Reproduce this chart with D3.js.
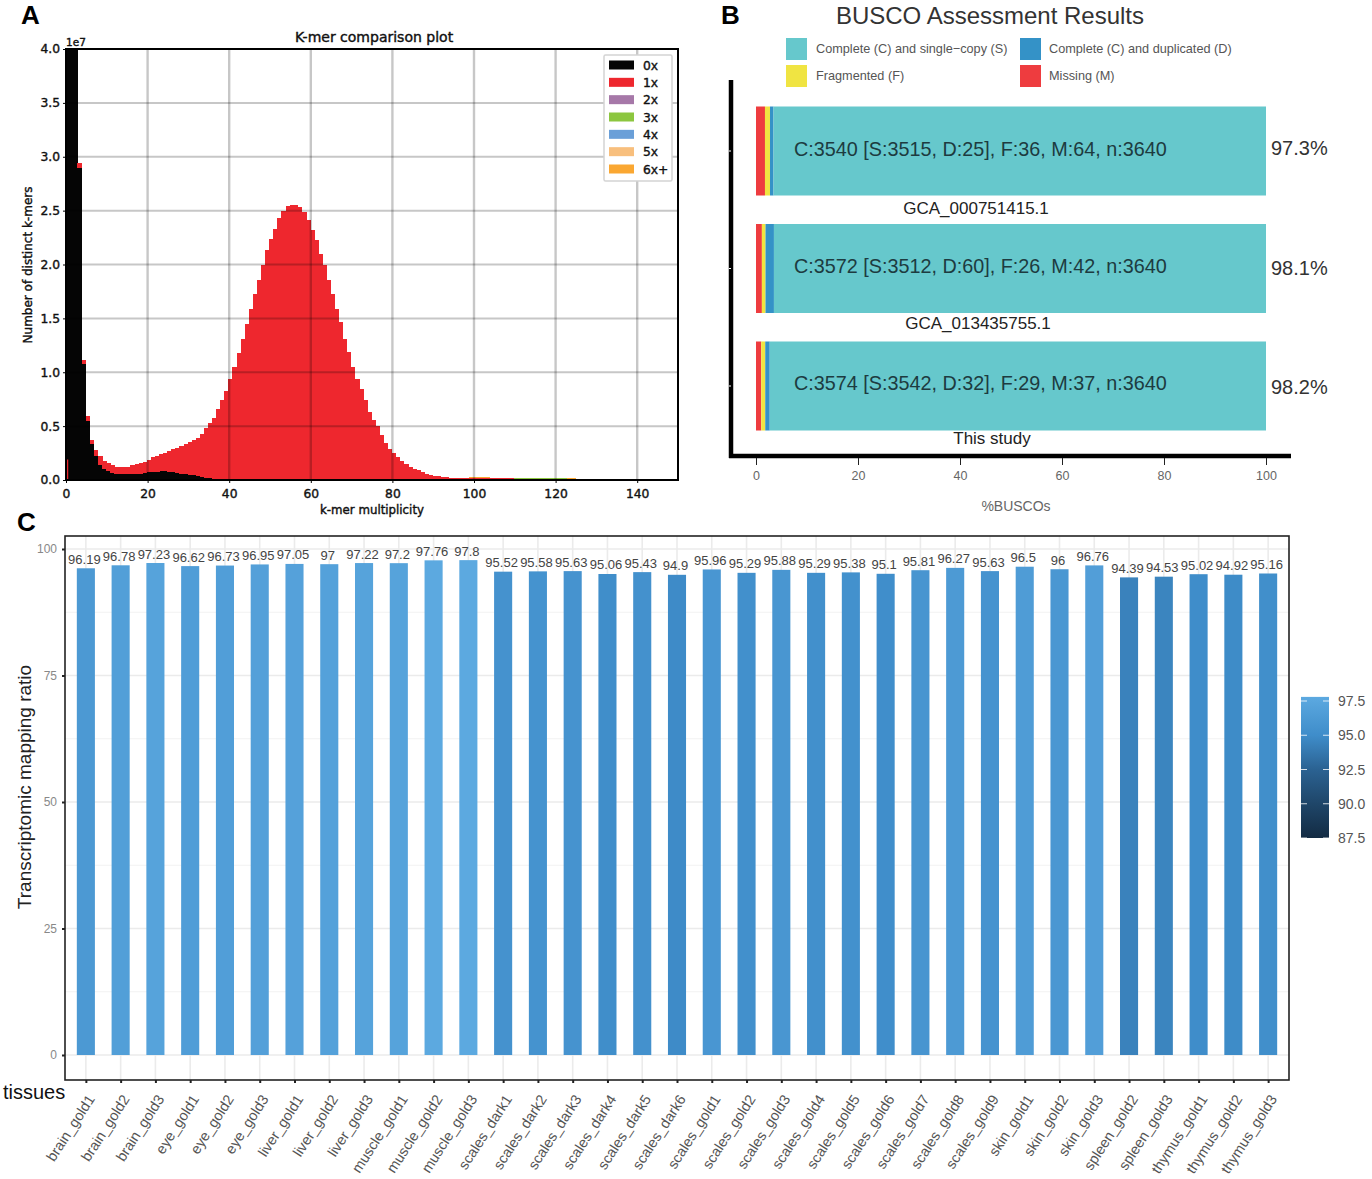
<!DOCTYPE html>
<html>
<head>
<meta charset="utf-8">
<script src="https://cdn.jsdelivr.net/npm/d3@7"></script>
<style>
  html, body { margin: 0; padding: 0; background: #fff; }
  svg { display: block; }
  text { font-family: "Liberation Sans", Arial, sans-serif; }
  .kmer text { font-family: "DejaVu Sans", sans-serif; font-size: 12.3px; fill: #111; stroke: #111; stroke-width: .4px; }
</style>
</head>
<body>
<div id="chart"></div>
<script>
// Panel A: k-mer histogram, counts in units of 1e7, one entry per multiplicity bin from 0
var kmerZero = [4.6,4.6,4.6,2.90,1.08,.55,.33,.22,.14,.10,.08,.065,.06,.055,.055,.055,.055,.06,.06,.065,
  .07,.07,.075,.08,.08,.075,.07,.065,.06,.055,.05,.045,.035,.03,.02,.015,.01,.005];
var kmerOne = [0,0,0,.04,.03,.04,.04,.06,.08,.08,.075,.07,.065,.065,.065,.07,.08,.085,.095,.105,
  .12,.14,.15,.16,.175,.195,.215,.235,.255,.275,.30,.325,.355,.40,.46,.515,.57,.655,.74,.83,
  .94,1.05,1.18,1.31,1.45,1.59,1.73,1.86,2.0,2.13,2.24,2.33,2.43,2.5,2.54,2.55,2.55,2.53,2.49,2.41,
  2.32,2.23,2.1,2.0,1.86,1.73,1.59,1.47,1.31,1.19,1.05,.94,.84,.74,.63,.56,.5,.42,.34,.29,
  .25,.21,.18,.15,.125,.105,.09,.075,.06,.05,.04,.035,.03,.025,.02,.015,.015,.015,.015,.015,
  .015,.015,.015,.015,.015,.015,.015,.015,.015,.015,.012,.012,.012,.012,.012,.012,.012,.012,.012,.012,
  .01,.01,.01,.01,.01,.008,.008,.008,.008,.006,.006,.006,.005,.005,.005,.004,.004,.003,.003,.002];
var kmerSpike = 0.19;  // thin red line at the very start of the axis
// 3x and 6x+ only show as a faint rim on the tail, starting at bin 95
var tailStart = 95;
var kmerThreeTail = [.002,.003,.004,.005,.006,.006,.007,.007,.007,.006,.006,.006,.005,.005,.005,.005,.005,.006,.006,.006,
  .006,.006,.006,.005,.005,.005,.004,.004,.003,.003];
var kmerSixTail = [.001,.001,.002,.002,.003,.003,.003,.003,.002,.002,.002,.002,.002,.002,.002,.002,.002,.002,.002,.002,
  .002,.002,.002,.002,.002,.002,.002,.003,.003,.003,.003,.003,.003,.003,.002,.002,.002,.002,.002,.001];
var kmerKeys = ["0x","1x","2x","3x","4x","5x","6x+"];
var kmerColors = ["#050505","#ee272e","#a678a8","#8cc63f","#6a9fd8","#f8bf7d","#faa732"];
var kmerXTicks = [0,20,40,60,80,100,120,140];
var kmerYTicks = [0,.5,1,1.5,2,2.5,3,3.5,4];

// Panel B: BUSCO gene counts
var buscoNames = ["GCA_000751415.1","GCA_013435755.1","This study"];
var buscoMissing = [64,42,37];
var buscoFragmented = [36,26,29];
var buscoDuplicated = [25,60,32];
var buscoSingle = [3515,3512,3542];
var buscoTotal = 3640;
var buscoSummary = ["C:3540 [S:3515, D:25], F:36, M:64, n:3640","C:3572 [S:3512, D:60], F:26, M:42, n:3640","C:3574 [S:3542, D:32], F:29, M:37, n:3640"];
var buscoPercent = ["97.3%","98.1%","98.2%"];
var buscoKeys = ["M","F","D","S"];
var buscoColors = {S:"#66c8cc", D:"#3492c7", F:"#f0e442", M:"#ee3c3f"};
var buscoXTicks = [0,20,40,60,80,100];

// Panel C: mapping ratio per tissue
var tissues = ["brain_gold1","brain_gold2","brain_gold3","eye_gold1","eye_gold2","eye_gold3","liver_gold1","liver_gold2","liver_gold3",
  "muscle_gold1","muscle_gold2","muscle_gold3","scales_dark1","scales_dark2","scales_dark3","scales_dark4","scales_dark5","scales_dark6",
  "scales_gold1","scales_gold2","scales_gold3","scales_gold4","scales_gold5","scales_gold6","scales_gold7","scales_gold8","scales_gold9",
  "skin_gold1","skin_gold2","skin_gold3","spleen_gold2","spleen_gold3","thymus_gold1","thymus_gold2","thymus_gold3"];
var mappingRatio = [96.19,96.78,97.23,96.62,96.73,96.95,97.05,97,97.22,97.2,97.76,97.8,95.52,95.58,95.63,95.06,95.43,94.9,
  95.96,95.29,95.88,95.29,95.38,95.1,95.81,96.27,95.63,96.5,96,96.76,94.39,94.53,95.02,94.92,95.16];
var ratioTicks = [0,25,50,75,100];
var ratioMinorTicks = [12.5,37.5,62.5,87.5];
var colorbarTicks = [87.5,90,92.5,95,97.5];

var svg = d3.select("#chart").append("svg").attr("width", 1372).attr("height", 1179);

function panelLetter(label, x, y) {
  svg.append("text").attr("x", x).attr("y", y).text(label)
    .style("font-size", "26px").style("font-weight", "bold").style("fill", "#000");
}
panelLetter("A", 21, 24);
panelLetter("B", 721, 24);
panelLetter("C", 17, 531);

/* ---------- A ---------- */
var a = svg.append("g").attr("class", "kmer");
var ax = d3.scaleLinear().domain([0, 150]).range([66, 678]);
var ay = d3.scaleLinear().domain([0, 4]).range([480, 49]);

var kmerTable = kmerOne.map(function(v, k) {
  return {
    "0x": kmerZero[k] || 0,
    "1x": v,
    "2x": 0,
    "3x": kmerThreeTail[k - tailStart] || 0,
    "4x": 0,
    "5x": 0,
    "6x+": kmerSixTail[k - tailStart] || 0,
    k: k
  };
});
var kmerStack = d3.stack().keys(kmerKeys)(kmerTable);

svg.append("clipPath").attr("id", "kmerClip").append("rect")
  .attr("x", 64).attr("y", 49).attr("width", 614).attr("height", 431);

a.append("g").attr("clip-path", "url(#kmerClip)").attr("shape-rendering", "crispEdges").selectAll("g")
  .data(kmerStack).enter().append("g")
  .attr("fill", function(d, i) { return kmerColors[i]; })
  .selectAll("rect")
  .data(function(d) { return d; }).enter().append("rect")
  .attr("x", function(d) { return ax(d.data.k - 0.2); })
  .attr("width", ax(1) - ax(0) + 0.6)
  .attr("y", function(d) { return ay(d[1]); })
  .attr("height", function(d) { return Math.max(0, ay(d[0]) - ay(d[1])); });

a.append("line").attr("x1", ax(0.4)).attr("x2", ax(0.4)).attr("y1", ay(0)).attr("y2", ay(kmerSpike))
  .attr("stroke", "#ee272e").attr("stroke-width", 1.2);

// grid sits on top of the bars
a.append("g").selectAll("line").data(kmerXTicks.slice(1)).enter().append("line")
  .attr("x1", ax).attr("x2", ax).attr("y1", 49).attr("y2", 480)
  .attr("stroke", "#000").attr("stroke-opacity", .22).attr("stroke-width", 2.4);
a.append("g").selectAll("line").data(kmerYTicks.slice(1, -1)).enter().append("line")
  .attr("y1", ay).attr("y2", ay).attr("x1", 66).attr("x2", 678)
  .attr("stroke", "#000").attr("stroke-opacity", .22).attr("stroke-width", 2);

a.append("rect").attr("x", 66).attr("y", 49).attr("width", 612).attr("height", 431)
  .attr("fill", "none").attr("stroke", "#000").attr("stroke-width", 2);

var axA = a.append("g").attr("transform", "translate(0,480)")
  .call(d3.axisBottom(ax).tickValues(kmerXTicks).tickSize(3).tickPadding(6).tickFormat(d3.format("d")));
var ayA = a.append("g").attr("transform", "translate(66,0)")
  .call(d3.axisLeft(ay).tickValues(kmerYTicks).tickSize(3).tickPadding(3).tickFormat(d3.format(".1f")));
axA.select(".domain").remove();
ayA.select(".domain").remove();

a.append("text").attr("x", 66).attr("y", 46).text("1e7").style("font-size", "10.5px");
a.append("text").attr("x", 374).attr("y", 42).attr("text-anchor", "middle").text("K-mer comparison plot").style("font-size", "14px");
a.append("text").attr("x", 372).attr("y", 514).attr("text-anchor", "middle").text("k-mer multiplicity").style("font-size", "11.8px");
a.append("text").attr("transform", "translate(32,265) rotate(-90)").attr("text-anchor", "middle").text("Number of distinct k-mers").style("font-size", "12px");

var lg = a.append("g");
lg.append("rect").attr("x", 604).attr("y", 55).attr("width", 68).attr("height", 126)
  .attr("fill", "#fff").attr("stroke", "#d4d4d4").attr("stroke-width", 1.5).attr("rx", 1.5);
var legendRow = d3.scalePoint().domain(kmerKeys).range([65, 169]);
lg.selectAll("rect.sw").data(kmerKeys).enter().append("rect").attr("class", "sw")
  .attr("x", 609).attr("width", 25).attr("height", 9)
  .attr("y", function(d) { return legendRow(d) - 4.5; })
  .attr("fill", function(d, i) { return kmerColors[i]; });
lg.selectAll("text").data(kmerKeys).enter().append("text")
  .attr("x", 643).attr("y", function(d) { return legendRow(d) + 4.5; })
  .text(function(d) { return d; });

/* ---------- B ---------- */
var b = svg.append("g");
var bx = d3.scaleLinear().domain([0, 100]).range([756, 1266]);
var barTops = d3.scalePoint().domain(buscoNames).range([151, 386]);
var barHeight = 89;
var buscoTable = buscoNames.map(function(n, i) {
  return {name: n, M: buscoMissing[i] / buscoTotal * 100, F: buscoFragmented[i] / buscoTotal * 100,
    D: buscoDuplicated[i] / buscoTotal * 100, S: buscoSingle[i] / buscoTotal * 100};
});

b.append("text").attr("x", 990).attr("y", 24).attr("text-anchor", "middle")
  .text("BUSCO Assessment Results").style("font-size", "24px").style("fill", "#333");

var buscoLegend = [
  {key: "S", label: "Complete (C) and single\u2212copy (S)", x: 786, y: 38},
  {key: "D", label: "Complete (C) and duplicated (D)", x: 1020, y: 38},
  {key: "F", label: "Fragmented (F)", x: 786, y: 65},
  {key: "M", label: "Missing (M)", x: 1020, y: 65}
];
b.selectAll("rect.key").data(buscoLegend).enter().append("rect").attr("class", "key")
  .attr("x", function(d) { return d.x; }).attr("y", function(d) { return d.y; })
  .attr("width", 21).attr("height", 22)
  .attr("fill", function(d) { return buscoColors[d.key]; });
b.selectAll("text.key").data(buscoLegend).enter().append("text").attr("class", "key")
  .attr("x", function(d) { return d.x + (d.x == 786 ? 30 : 29); }).attr("y", function(d) { return d.y + 15; })
  .text(function(d) { return d.label; })
  .style("font-size", "12.7px").style("fill", "#555");

b.selectAll("g.stack").data(d3.stack().keys(buscoKeys)(buscoTable)).enter().append("g").attr("class", "stack")
  .attr("fill", function(d) { return buscoColors[d.key]; })
  .selectAll("rect").data(function(d) { return d; }).enter().append("rect")
  .attr("x", function(d) { return bx(d[0]); })
  .attr("width", function(d) { return bx(d[1]) - bx(d[0]); })
  .attr("y", function(d) { return barTops(d.data.name) - barHeight / 2; })
  .attr("height", barHeight);

var summaryY = [156, 273, 390], percentY = [155, 275, 394];
b.selectAll("text.sum").data(buscoSummary).enter().append("text").attr("class", "sum")
  .attr("x", 794).attr("y", function(d, i) { return summaryY[i]; })
  .text(function(d) { return d; })
  .style("font-size", "19.8px").style("fill", "#1d3b40");
b.selectAll("text.pct").data(buscoPercent).enter().append("text").attr("class", "pct")
  .attr("x", 1271).attr("y", function(d, i) { return percentY[i]; })
  .text(function(d) { return d; })
  .style("font-size", "20px").style("fill", "#333");
var nameX = [976, 978, 992], nameY = [214, 329, 444];
b.selectAll("text.name").data(buscoNames).enter().append("text").attr("class", "name")
  .attr("x", function(d, i) { return nameX[i]; }).attr("y", function(d, i) { return nameY[i]; })
  .attr("text-anchor", "middle").text(function(d) { return d; })
  .style("font-size", "17px").style("fill", "#222");

b.append("line").attr("x1", 731).attr("x2", 731).attr("y1", 80).attr("y2", 458).attr("stroke", "#000").attr("stroke-width", 4.5);
b.append("line").attr("x1", 729).attr("x2", 1291).attr("y1", 456).attr("y2", 456).attr("stroke", "#000").attr("stroke-width", 4.5);
b.selectAll("line.nick").data(buscoNames).enter().append("line").attr("class", "nick")
  .attr("x1", 729).attr("x2", 731).attr("y1", barTops).attr("y2", barTops)
  .attr("stroke", "#fff").attr("stroke-width", 1);

var bAxis = b.append("g").attr("transform", "translate(0,458)")
  .call(d3.axisBottom(bx).tickValues(buscoXTicks).tickSize(7).tickPadding(6));
bAxis.select(".domain").remove();
bAxis.selectAll("text").style("font-size", "12.5px").style("fill", "#666").style("font-family", "Liberation Sans");
bAxis.selectAll("line").attr("stroke", "#222");
b.append("text").attr("x", 1016).attr("y", 511).attr("text-anchor", "middle").text("%BUSCOs")
  .style("font-size", "14px").style("fill", "#666");

/* ---------- C ---------- */
var c = svg.append("g");
var cLeft = 65, cRight = 1289, cTop = 536, cBottom = 1080;
var cx = d3.scalePoint().domain(tissues).range([cLeft, cRight]).padding(0.6);
var cy = d3.scaleLinear().domain([0, 100]).range([1055, 549]);
var barColor = d3.scaleLinear().domain([87.5, 92.5, 95, 97.8])
  .range(["#132b43", "#2b6292", "#3f8dca", "#5ca9e0"]).interpolate(d3.interpolateLab);
var barWidth = cx.step() * 0.52;

c.append("g").selectAll("line").data(ratioMinorTicks).enter().append("line")
  .attr("x1", cLeft).attr("x2", cRight).attr("y1", cy).attr("y2", cy)
  .attr("stroke", "#f2f2f2").attr("stroke-width", 1);
c.append("g").selectAll("line").data(ratioTicks).enter().append("line")
  .attr("x1", cLeft).attr("x2", cRight).attr("y1", cy).attr("y2", cy)
  .attr("stroke", "#ebebeb").attr("stroke-width", 1.6);
c.append("g").selectAll("line").data(tissues).enter().append("line")
  .attr("x1", cx).attr("x2", cx).attr("y1", cTop).attr("y2", cBottom)
  .attr("stroke", "#ebebeb").attr("stroke-width", 1.6);

c.selectAll("rect.bar").data(tissues).enter().append("rect").attr("class", "bar")
  .attr("x", function(d) { return cx(d) - barWidth / 2; })
  .attr("width", barWidth)
  .attr("y", function(d, i) { return cy(mappingRatio[i]); })
  .attr("height", function(d, i) { return cy(0) - cy(mappingRatio[i]); })
  .attr("fill", function(d, i) { return barColor(mappingRatio[i]); });

c.selectAll("text.val").data(tissues).enter().append("text").attr("class", "val")
  .attr("x", function(d) { return cx(d) - 1.5; }).attr("y", function(d, i) { return cy(mappingRatio[i]) - 4.5; })
  .attr("text-anchor", "middle")
  .text(function(d, i) { return mappingRatio[i]; })
  .style("font-size", "13px").style("fill", "#444");

c.append("rect").attr("x", cLeft).attr("y", cTop).attr("width", cRight - cLeft).attr("height", cBottom - cTop)
  .attr("fill", "none").attr("stroke", "#222").attr("stroke-width", 1.6);

var cyAxis = c.append("g").attr("transform", "translate(" + cLeft + ",0)")
  .call(d3.axisLeft(cy).tickValues(ratioTicks).tickSize(3).tickPadding(5));
cyAxis.select(".domain").remove();
cyAxis.selectAll("line").attr("stroke", "#222").attr("stroke-width", 2);
cyAxis.selectAll("text").style("font-size", "12px").style("fill", "#888").style("font-family", "Liberation Sans");

var cxAxis = c.append("g").attr("transform", "translate(0," + cBottom + ")")
  .call(d3.axisBottom(cx).tickSize(3));
cxAxis.select(".domain").remove();
cxAxis.selectAll("line").attr("stroke", "#222").attr("stroke-width", 2);
cxAxis.selectAll("text")
  .attr("text-anchor", "end").attr("dx", 0).attr("dy", 0).attr("y", 0).attr("x", 0)
  .attr("transform", "translate(9,19) rotate(-57)")
  .style("font-size", "14.5px").style("fill", "#555").style("font-family", "Liberation Sans");

c.append("text").attr("transform", "translate(31,787) rotate(-90)").attr("text-anchor", "middle")
  .text("Transcriptomic mapping ratio").style("font-size", "19px").style("fill", "#222");
c.append("text").attr("x", 3).attr("y", 1099).text("tissues").style("font-size", "20px").style("fill", "#111");

// colourbar, same scale as the bars
var barScale = d3.scaleLinear().domain([87.5, 97.5]).range([838, 701]);
var defs = svg.append("defs");
var grad = defs.append("linearGradient").attr("id", "ratioGrad").attr("x1", 0).attr("x2", 0).attr("y1", 1).attr("y2", 0);
colorbarTicks.concat([97.8]).forEach(function(v) {
  grad.append("stop").attr("offset", (v - 87.5) / 10.3).attr("stop-color", barColor(v));
});
c.append("rect").attr("x", 1301).attr("width", 28).attr("y", barScale(97.8)).attr("height", barScale(87.5) - barScale(97.8))
  .attr("fill", "url(#ratioGrad)");
var cbTicks = c.append("g").selectAll("g").data(colorbarTicks).enter().append("g");
cbTicks.append("line").attr("x1", 1301).attr("x2", 1307).attr("y1", barScale).attr("y2", barScale).attr("stroke", "#fff").attr("stroke-opacity", .8);
cbTicks.append("line").attr("x1", 1323).attr("x2", 1329).attr("y1", barScale).attr("y2", barScale).attr("stroke", "#fff").attr("stroke-opacity", .8);
cbTicks.append("text").attr("x", 1338).attr("y", function(d) { return barScale(d) + 5; })
  .text(d3.format(".1f")).style("font-size", "14px").style("fill", "#555");
</script>
</body>
</html>
